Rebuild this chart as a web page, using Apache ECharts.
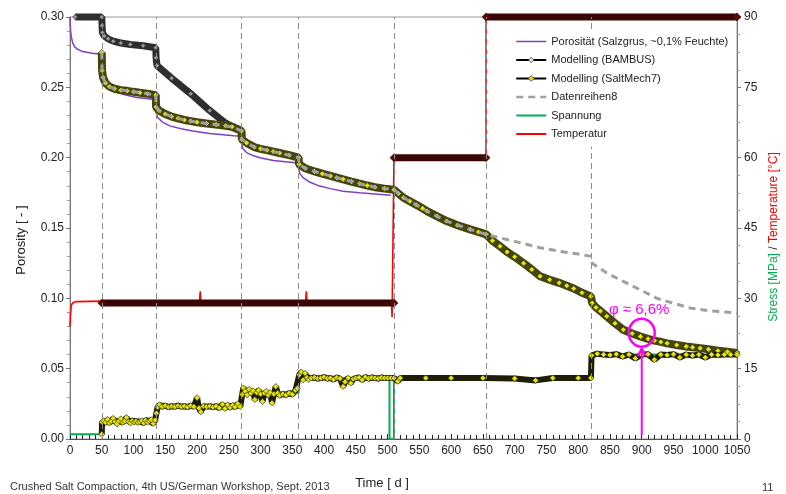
<!DOCTYPE html>
<html><head><meta charset="utf-8">
<script src="https://cdn.jsdelivr.net/npm/echarts@6/dist/echarts.min.js"></script>
<style>html,body{margin:0;padding:0;background:#fff}#c{width:786px;height:494px}</style>
</head><body><div id="c"></div>
<script>
// ---------- data ----------
const eventDays = [50, 135, 270, 360, 510, 655, 820];

const porositaet = [[0,0.300],[0.5,0.294],[1,0.290],[2,0.286],[4,0.282],[7,0.279],[12,0.277],[20,0.2755],[35,0.2742],[50,0.2735],
 [50.5,0.262],[51,0.2565],[54,0.2535],[58,0.251],[65,0.2487],[75,0.2462],[88,0.2445],[105,0.2428],[120,0.242],[134,0.2414],
 [135,0.236],[136,0.2315],[138,0.2285],[145,0.2255],[157,0.2226],[175,0.2205],[193,0.219],[220,0.2172],[258,0.2156],[269,0.2152],
 [270,0.21],[272,0.2065],[278,0.2036],[288,0.2015],[299,0.2],[320,0.198],[351,0.1965],[359,0.1962],
 [360,0.192],[362,0.1885],[367,0.1858],[378,0.1825],[393,0.1798],[410,0.178],[430,0.1762],[456,0.1751],[480,0.1742],[505,0.1733]];

const bambus = [[8,0.300],[50,0.300],[50.5,0.294],[51,0.289],[54,0.2865],[60,0.2845],[68,0.2828],[80,0.2815],[95,0.2805],[115,0.2795],[135,0.2782],
 [135.5,0.271],[137,0.2655],[160,0.2565],[190,0.2455],[220,0.2335],[245,0.2245],[258,0.2215],[270,0.219]];

const saltMech7 = [[50,0.2748],[50.5,0.262],[52,0.257],[56,0.253],[62,0.2505],[70,0.249],[80,0.248],[90,0.2475],[100,0.2468],[110,0.2462],[122,0.2455],[135,0.2445],
 [135.5,0.236],[140,0.2335],[150,0.231],[160,0.2292],[170,0.228],[180,0.2268],[190,0.226],[200,0.2252],[215,0.2243],[230,0.2235],[245,0.2227],[255,0.222],[270,0.219],
 [270.5,0.213],[278,0.2105],[290,0.2075],[300,0.2063],[310,0.2053],[320,0.2043],[330,0.2033],[345,0.2018],[360,0.2],
 [360.5,0.1953],[370,0.1925],[385,0.1902],[397,0.1886],[410,0.187],[420,0.1858],[430,0.1846],[443,0.183],[456,0.1815],[468,0.1802],[480,0.179],[495,0.178],[510,0.1772],
 [517,0.1745],[525,0.1715],[535,0.169],[545,0.1665],[555,0.164],[562,0.162],[578,0.1583],[593,0.1549],[610,0.152],[630,0.149],[643,0.1472],[655,0.1455],
 [665,0.141],[677,0.137],[688,0.133],[700,0.1295],[714,0.125],[727,0.1205],[740,0.1157],[755,0.1132],[770,0.111],[782,0.109],[793,0.107],[806,0.104],[820,0.1014],
 [822,0.0967],[828,0.0935],[835,0.091],[845,0.0872],[858,0.0822],[871,0.0777],[885,0.075],[898,0.0729],[910,0.0712],[920,0.070],[930,0.069],[940,0.068],[955,0.0668],[970,0.0658],[980,0.0652],[992,0.0646],[1005,0.0638],[1020,0.0628],[1035,0.062],[1050,0.0612]];

const datenreihen8 = [[50,0.2748],[50.5,0.262],[52,0.257],[56,0.253],[62,0.2505],[70,0.249],[90,0.2475],[110,0.2462],[135,0.2445],
 [135.5,0.236],[140,0.2335],[150,0.231],[160,0.2292],[180,0.2268],[200,0.2252],[230,0.2235],[255,0.222],[270,0.219],
 [270.5,0.213],[278,0.2105],[290,0.2075],[310,0.2053],[330,0.2033],[360,0.2],
 [360.5,0.1953],[370,0.1925],[385,0.1902],[410,0.187],[430,0.1846],[456,0.1815],[480,0.179],[510,0.1772],
 [525,0.1715],[545,0.1665],[562,0.162],[593,0.1549],[630,0.149],[655,0.1455],
 [677,0.143],[700,0.1405],[740,0.136],[770,0.1335],[800,0.1315],[819,0.130],[822,0.125],[845,0.118],[871,0.112],[900,0.1055],[924,0.100],[950,0.0965],[977,0.093],[1010,0.091],[1050,0.0896]];

const spannung = [[0,1],[50,1],[50,3.8],[135,3.8],[135,6.9],[270,6.9],[270,9.8],[360,9.8],[360,13],[503,13],[503,0],[510,0],[510,13],[820,13],[820,18],[1050,18]];

const temperatur = [[0,24],[1,27],[2,28.5],[4,29],[10,29.3],[50,29.4],[204,29.4],[205,31.5],[206,29.4],[371,29.4],[372,31.5],[373,29.4],[506,29.4],[507,26],[509,26],[510,60],[655,60],[655,90],[1050,90]];

const spannungModell = [[50,1],[50.5,3.6],[53,3.9],[56,3.5],[59,4.2],[62,3.4],[65,3.8],[68,4.4],[71,3.6],[74,3.2],[77,3.9],[80,4.3],[83,3.5],[86,3.8],[89,4.6],[92,3.7],[95,3.4],[98,3.9],[101,3.6],[104,3.8],[107,3.5],[110,3.7],[113,3.9],[116,3.4],[119,4.0],[122,3.6],[125,3.9],[128,4.1],[131,3.3],[134,4.0],
 [136,5.5],[138,6.8],[141,7.3],[145,6.9],[150,7.1],[155,6.8],[160,7.0],[165,6.9],[170,7.1],[175,6.9],[180,7.0],[185,6.8],[190,7.1],[195,6.9],[200,8.8],[203,6.6],[206,5.8],[210,7.0],[215,6.9],[220,7.0],[225,6.8],[230,7.0],[235,6.6],[240,7.4],[244,6.5],[248,7.3],[252,6.7],[256,7.2],[260,6.8],[264,7.5],[268,6.9],
 [271,9.5],[273,10.9],[276,10.2],[279,9.4],[282,10.6],[285,9.8],[288,10.3],[291,8.4],[294,9.9],[297,10.4],[300,9.6],[303,8.0],[306,9.8],[309,10.2],[312,9.4],[315,9.9],[318,7.7],[321,9.6],[324,11.2],[327,9.8],[330,9.3],[335,9.6],[340,9.4],[345,9.8],[350,9.5],[355,10.4],[358,10.8],
 [361,13.7],[364,14.3],[367,12.6],[370,14.0],[373,13.1],[376,12.7],[380,13.0],[385,13.1],[390,12.9],[395,13.0],[400,13.2],[405,12.9],[410,13.0],[415,12.7],[420,13.1],[425,12.9],[430,11.2],[433,12.2],[438,13.0],[442,11.9],[446,12.8],[450,13.0],[455,13.1],[460,12.6],[465,13.2],[470,12.9],[475,13.1],[480,13.0],[485,12.9],[490,13.1],[495,13.0],[500,13.0],[505,13.0],[510,13.0],[516,12.3],[520,13.0],
 [560,13.0],[600,13.0],[650,13.0],[700,12.9],[733,12.5],[760,13.0],[800,13.0],[820,13.0],
 [821,17.8],[830,18.2],[840,18.0],[850,17.9],[860,18.1],[870,17.6],[880,18.0],[890,17.2],[900,18.0],[910,18.1],[920,16.9],[930,18.0],[940,17.9],[950,18.1],[960,17.4],[970,18.0],[980,17.8],[990,18.0],[1000,17.4],[1010,18.0],[1020,17.9],[1030,18.0],[1040,18.0],[1050,18.0]];

const tempModell30 = [[50,29],[510,29]];
const tempModell60 = [[510,60],[655,60]];
const tempModell90 = [[655,90],[1050,90]];

const legendNames = ['Porosität (Salzgrus, ~0,1% Feuchte)', 'Modelling (BAMBUS)', 'Modelling (SaltMech7)', 'Datenreihen8', 'Spannung', 'Temperatur'];

const annot = { day: 900, circleVal: 0.0755, textVal: 0.092, arrowTop: 0.0645, label: 'φ ≈ 6,6%' };

// ---------- chart ----------
const FONT = 'Liberation Sans, Arial, sans-serif';
const chart = echarts.init(document.getElementById('c'), null, {renderer: 'canvas'});

function bandSeries(name, data, yIdx, lineColor, width, sym, symSize, symColor, symBorder, z) {
  return {
    name, type: 'line', data, xAxisIndex: 0, yAxisIndex: yIdx, clip: false,
    symbol: sym, symbolSize: symSize, showSymbol: sym !== 'none', showAllSymbol: true,
    itemStyle: {color: symColor, borderColor: symBorder, borderWidth: 0.7},
    lineStyle: {color: lineColor, width}, z, silent: true, animation: false,
    emphasis: {disabled: true}
  };
}

const hideSym = {color: 'rgba(0,0,0,0)', borderWidth: 0, borderColor: 'rgba(0,0,0,0)'};

const option = {
  animation: false,
  textStyle: {fontFamily: FONT},
  grid: {left: 70, right: 49, top: 17, bottom: 55, show: true, borderColor: '#9a9a9a', borderWidth: 1},
  legend: {
    orient: 'vertical', left: 500, top: 29, padding: [7, 3, 7, 15],
    backgroundColor: '#ffffff', itemWidth: 30, itemHeight: 7, itemGap: 7.5,
    textStyle: {fontSize: 11, color: '#222'},
    data: [
      {name: legendNames[0], itemStyle: hideSym, lineStyle: {width: 1.5}},
      {name: legendNames[1], itemStyle: {color: '#e0e0e0', borderColor: '#444', borderWidth: 0.8}, lineStyle: {width: 2, color: '#000'}},
      {name: legendNames[2], itemStyle: {color: '#e6e600', borderColor: '#444', borderWidth: 0.8}, lineStyle: {width: 2, color: '#000'}},
      {name: legendNames[3], itemStyle: hideSym, lineStyle: {width: 2.5}},
      {name: legendNames[4], itemStyle: hideSym, lineStyle: {width: 2}},
      {name: legendNames[5], itemStyle: hideSym, lineStyle: {width: 2}}
    ],
    z: 20
  },
  xAxis: {
    type: 'value', min: 0, max: 1050, interval: 50,
    axisLine: {lineStyle: {color: '#555', width: 1}},
    axisTick: {inside: true, length: 5, lineStyle: {color: '#222'}},
    minorTick: {show: true, splitNumber: 5, length: 4, lineStyle: {color: '#222'}},
    splitLine: {show: false},
    axisLabel: {fontSize: 12, color: '#222', margin: 6, formatter: v => String(v)}
  },
  yAxis: [{
    type: 'value', min: 0, max: 0.3, interval: 0.05, position: 'left',
    axisLine: {show: true, lineStyle: {color: '#777'}},
    axisTick: {show: true, length: 4, lineStyle: {color: '#777'}},
    minorTick: {show: true, splitNumber: 5, length: 3, lineStyle: {color: '#999'}},
    splitLine: {show: false},
    axisLabel: {fontSize: 12, color: '#222', margin: 6, formatter: v => v.toFixed(2)}
  }, {
    type: 'value', min: 0, max: 90, interval: 15, position: 'right',
    axisLine: {show: true, lineStyle: {color: '#777'}},
    axisTick: {show: true, length: 4, lineStyle: {color: '#777'}},
    minorTick: {show: true, splitNumber: 4, length: 3, lineStyle: {color: '#999'}},
    splitLine: {show: false},
    axisLabel: {fontSize: 12, color: '#222', margin: 7, formatter: v => String(v)}
  }],
  series: [
    {
      name: legendNames[0], type: 'line', data: porositaet, yAxisIndex: 0,
      symbol: 'none', lineStyle: {color: '#7F3FBF', width: 1.5}, itemStyle: {color: '#7F3FBF'}, z: 2, silent: true,
      markLine: {
        silent: true, symbol: ['none', 'none'], label: {show: false},
        lineStyle: {color: '#8a8a8a', type: [6, 4], width: 1},
        data: eventDays.map(d => ({xAxis: d}))
      }
    },
    bandSeries(legendNames[1], bambus, 0, '#2e2e2e', 7, 'diamond', 5, '#9a9a9a', '#333', 3),
    bandSeries(legendNames[2], saltMech7, 0, '#45450e', 8, 'diamond', 6, '#e6e600', '#222', 4),
    {
      name: legendNames[3], type: 'line', data: datenreihen8, yAxisIndex: 0, symbol: 'none',
      lineStyle: {color: '#a0a0a0', width: 3, type: [7, 5]}, itemStyle: {color: '#a0a0a0'}, z: 5, silent: true
    },
    bandSeries('Spannung (Modell)', spannungModell, 1, '#1e1e08', 6, 'diamond', 6, '#e6e600', '#333', 4),
    {
      name: legendNames[4], type: 'line', data: spannung, yAxisIndex: 1, symbol: 'none',
      lineStyle: {color: '#00B050', width: 2}, itemStyle: {color: '#00B050'}, z: 3, silent: true
    },
    {
      name: legendNames[5], type: 'line', data: temperatur, yAxisIndex: 1, symbol: 'none', clip: false,
      lineStyle: {color: '#FF0000', width: 1.6}, itemStyle: {color: '#FF0000'}, z: 3, silent: true
    },
    bandSeries('Temperatur (Modell) 30', tempModell30, 1, '#3a0505', 7, 'diamond', 8, '#6a0000', '#222', 4),
    bandSeries('Temperatur (Modell) 60', tempModell60, 1, '#3a0505', 7, 'diamond', 8, '#6a0000', '#222', 4),
    bandSeries('Temperatur (Modell) 90', tempModell90, 1, '#3a0505', 7, 'diamond', 8, '#6a0000', '#222', 4)
  ]
};

chart.setOption(option);

// ---------- annotations & axis names ----------
const toPx = (d, v) => chart.convertToPixel({xAxisIndex: 0, yAxisIndex: 0}, [d, v]);
const c = toPx(annot.day, annot.circleVal);
const t = toPx(annot.day - 4, annot.textVal);
const a0 = toPx(annot.day, 0);
const a1 = toPx(annot.day, annot.arrowTop);
const MAG = '#FF00FF';

chart.setOption({
  graphic: [
    {type: 'ellipse', shape: {cx: c[0], cy: c[1], rx: 13, ry: 14}, style: {fill: 'none', stroke: MAG, lineWidth: 2.5}, z: 30, silent: true},
    {type: 'line', shape: {x1: a0[0], y1: a0[1] - 4, x2: a1[0], y2: a1[1] + 1}, style: {stroke: MAG, lineWidth: 2}, z: 30, silent: true},
    {type: 'polyline', shape: {points: [[a1[0] - 4, a1[1] + 8], [a1[0], a1[1]], [a1[0] + 4, a1[1] + 8]]}, style: {fill: 'none', stroke: MAG, lineWidth: 2}, z: 30, silent: true},
    {type: 'text', x: t[0], y: t[1], style: {text: annot.label, fill: MAG, font: '15px ' + FONT, textAlign: 'center', textVerticalAlign: 'middle'}, z: 30, silent: true},
    {type: 'text', x: 21, y: 240, rotation: Math.PI / 2, style: {text: 'Porosity [ - ]', fill: '#222', font: '13px ' + FONT, textAlign: 'center', textVerticalAlign: 'middle'}, silent: true},
    {type: 'text', x: 774, y: 237, rotation: Math.PI / 2, style: {
      text: '{g|Stress [MPa]}{k| / }{r|Temperature [°C]}', textAlign: 'center', textVerticalAlign: 'middle',
      rich: {g: {fill: '#00B050', font: '12px ' + FONT}, k: {fill: '#222', font: '12px ' + FONT}, r: {fill: '#FF0000', font: '12px ' + FONT}}
    }, silent: true},
    {type: 'text', x: 382, y: 483, style: {text: 'Time [ d ]', fill: '#222', font: '13px ' + FONT, textAlign: 'center', textVerticalAlign: 'middle'}, silent: true},
    {type: 'text', x: 10, y: 487, style: {text: 'Crushed Salt Compaction, 4th US/German Workshop, Sept. 2013', fill: '#333', font: '11px ' + FONT, textAlign: 'left', textVerticalAlign: 'middle'}, silent: true},
    {type: 'text', x: 762, y: 488, style: {text: '11', fill: '#333', font: '11px ' + FONT, textAlign: 'left', textVerticalAlign: 'middle'}, silent: true}
  ]
});
</script></body></html>
